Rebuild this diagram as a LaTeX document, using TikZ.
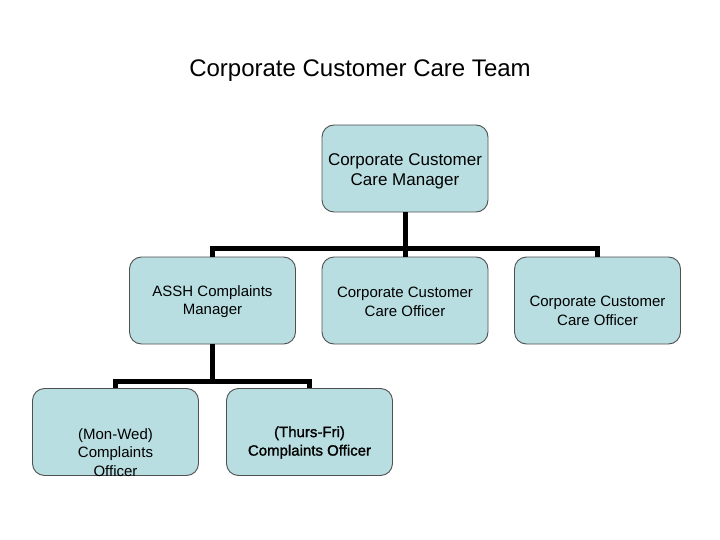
\documentclass[tikz,border=0pt]{standalone}
\usepackage{fontspec}
\setmainfont{Liberation Sans}
\newfontfamily\semibold[FakeBold=1.3]{Liberation Sans}
\definecolor{boxfill}{HTML}{B8DEE1}
\definecolor{boxline}{HTML}{505050}
\begin{document}
\begin{tikzpicture}[x=1pt,y=-1pt,
  box/.style={draw=boxline,line width=0.9pt,fill=boxfill,rounded corners=12pt,
    minimum width=166pt,minimum height=87pt,inner sep=0pt},
  txt/.style={align=center,inner sep=0pt,font=\fontsize{15}{18.5}\selectfont},
  conn/.style={line width=5pt,draw=black}]
\useasboundingbox (0,0) rectangle (720,540);
\node (title) at (360,71) {\fontsize{24}{28}\selectfont Corporate Customer Care Team};
% boxes
\node[box] (top) at (405,168.5) {};
\node[box] (assh) at (212.5,300.5) {};
\node[box] (cco1) at (405,300.5) {};
\node[box] (cco2) at (597.5,300.5) {};
\node[box] (mon) at (115.5,432) {};
\node[box] (thu) at (309.5,432) {};
% connectors
\coordinate (j1) at (405,248);
\coordinate (j2) at (212.5,381);
\draw[conn] (top.south) -- (j1);
\draw[conn] (assh.north) |- (j1) -| (cco2.north);
\draw[conn] (cco1.north) -- (cco1.north |- j1);
\draw[conn] (assh.south) -- (j2);
\draw[conn] (mon.north) |- (j2) -| (thu.north);
% texts
\node[txt,font=\fontsize{17}{20.5}\selectfont] (ttop) at (405,171.5) {Corporate Customer\\Care Manager};
\node[txt] (tassh) at (212.5,301.5) {ASSH Complaints\\Manager};
\node[txt] (tcco1) at (405,302) {Corporate Customer\\Care Officer};
\node[txt] (tcco2) at (597.5,311) {Corporate Customer\\Care Officer};
\node[txt] (tmon) at (115.5,452.5) {(Mon-Wed)\\Complaints\\Officer};
\node[txt,font=\fontsize{15}{18.5}\semibold] (tthu) at (309.5,442.5) {(Thurs-Fri)\\Complaints Officer};
\end{tikzpicture}
\end{document}
